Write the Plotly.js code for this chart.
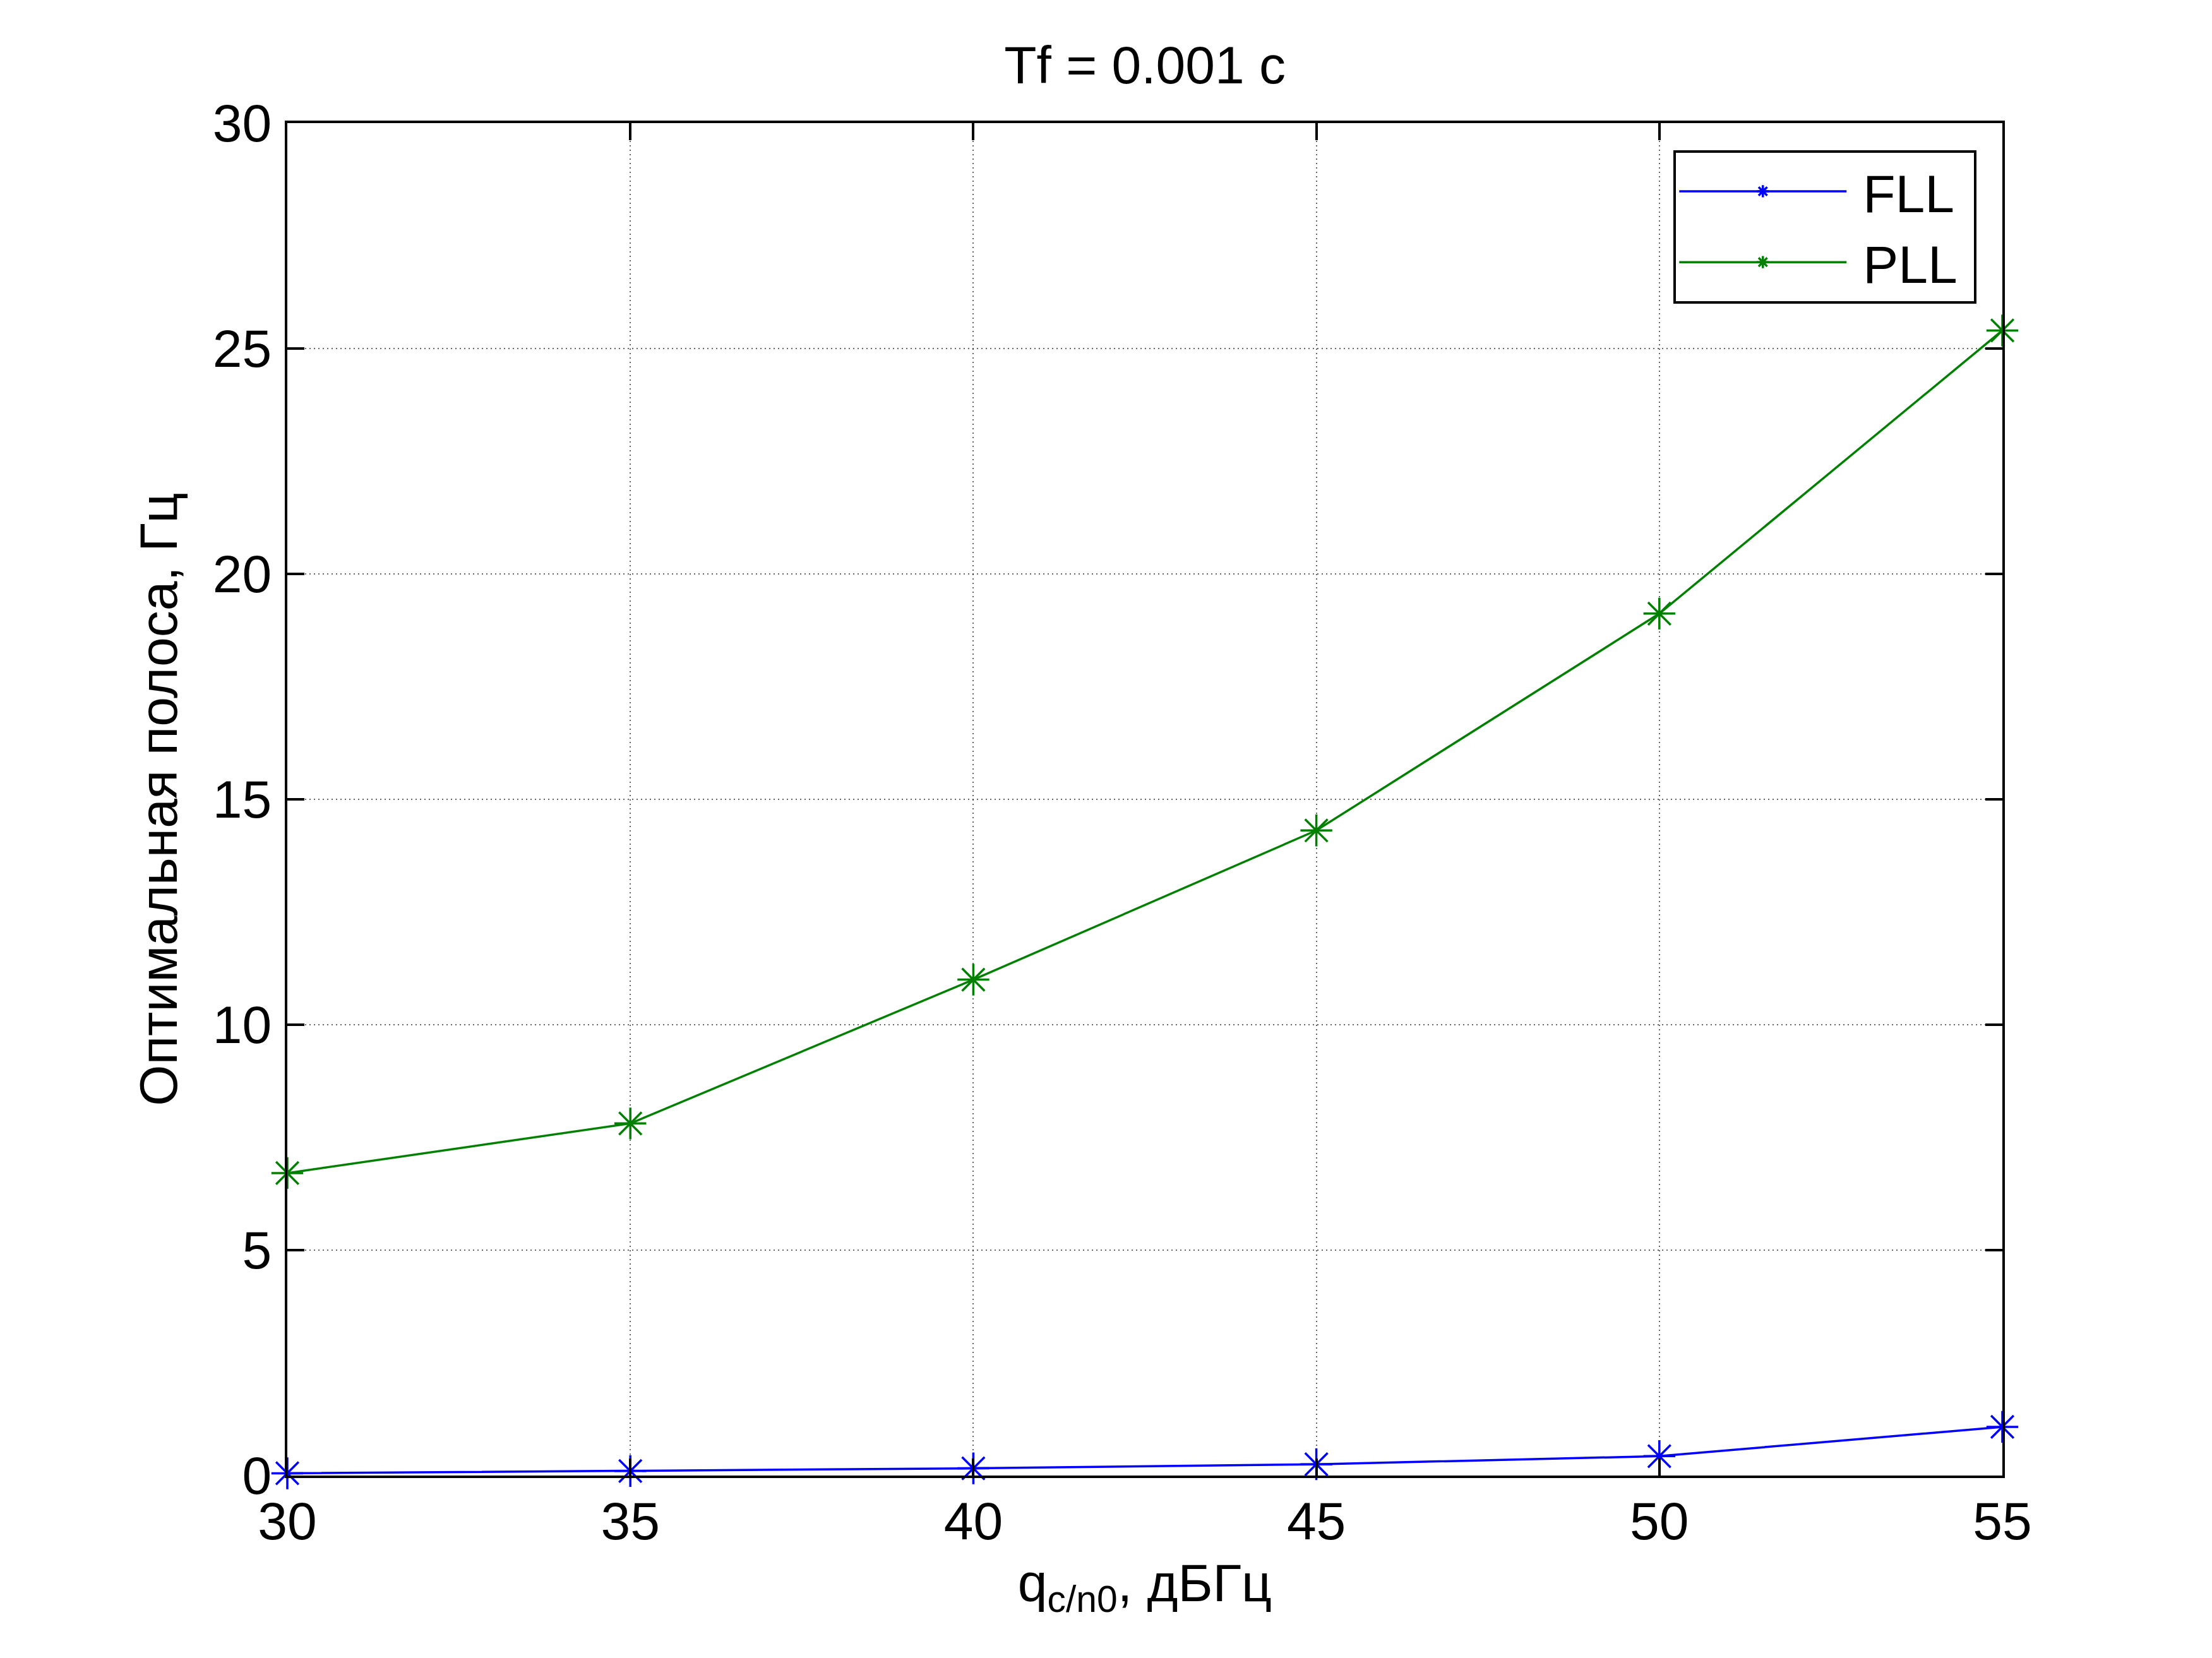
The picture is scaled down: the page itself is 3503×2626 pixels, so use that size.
<!DOCTYPE html>
<html>
<head>
<meta charset="utf-8">
<script src="https://cdn.plot.ly/plotly-3.0.1.min.js"></script>
<style>
  html, body { margin: 0; padding: 0; background: #fff; }
  #chart { width: 3503px; height: 2626px; }
</style>
</head>
<body>
<div id="chart"></div>
<script>
// q_c/n0, dB-Hz
var qcn0 = [30, 35, 40, 45, 50, 55];
// optimal loop bandwidth, Hz
var fllBand = [0.05, 0.10, 0.16, 0.25, 0.43, 1.08];
var pllBand = [6.71, 7.81, 11.0, 14.31, 19.12, 25.40];

var xTicks = [30, 35, 40, 45, 50, 55];
var yTicks = [0, 5, 10, 15, 20, 25, 30];

var FONT = 'Liberation Sans, Arial, Helvetica, sans-serif';

function makeTrace(name, y, color) {
    return {
        x: qcn0,
        y: y,
        // small spaces give the legend some air around the label
        name: '\u2005' + name + '\u2005',
        type: 'scatter',
        mode: 'lines+markers',
        cliponaxis: false,
        line: {color: color, width: 3.5},
        marker: {
            symbol: 'asterisk-open',
            size: 42,
            color: color,
            line: {color: color, width: 3.5}
        }
    };
}

var axisBase = {
    showline: true,
    linecolor: '#000',
    linewidth: 4,
    mirror: 'ticks',
    ticks: 'inside',
    ticklen: 27,
    tickwidth: 4,
    tickcolor: '#000',
    showgrid: true,
    gridcolor: 'rgba(0,0,0,0.6)',
    gridwidth: 2,
    griddash: '2px,5px',
    zeroline: false,
    tickfont: {family: FONT, size: 84, color: '#000'}
};

var layout = {
    width: 3503,
    height: 2626,
    paper_bgcolor: '#fff',
    plot_bgcolor: '#fff',
    margin: {l: 455, r: 332, t: 195, b: 289, pad: 0},
    showlegend: true,
    title: {
        text: 'Tf = 0.001 c',
        font: {family: FONT, size: 84, color: '#000'},
        x: 0.5176,
        xanchor: 'center',
        y: 0.961,
        yanchor: 'middle'
    },
    xaxis: Object.assign({}, axisBase, {
        range: [30, 55],
        tickvals: xTicks,
        ticktext: xTicks.map(String),
        ticklabelstandoff: -4,
        title: {
            text: 'q<sub>c/n0</sub>, дБГц',
            font: {family: FONT, size: 84, color: '#000'},
            standoff: 23
        }
    }),
    yaxis: Object.assign({}, axisBase, {
        range: [0, 30],
        tickvals: yTicks,
        ticktext: yTicks.map(String),
        ticklabelstandoff: 4,
        title: {
            text: 'Оптимальная полоса, Гц',
            font: {family: FONT, size: 84, color: '#000'},
            standoff: 29
        }
    }),
    legend: {
        x: 0.985,
        y: 0.980,
        xanchor: 'right',
        yanchor: 'top',
        bgcolor: '#fff',
        bordercolor: '#000',
        borderwidth: 4,
        itemwidth: 265,
        font: {family: FONT, size: 84, color: '#000'}
    }
};

var data = [
    makeTrace('FLL', fllBand, '#0000ff'),
    makeTrace('PLL', pllBand, '#008000')
];

Plotly.newPlot(document.getElementById('chart'), data, layout, {staticPlot: true});
</script>
</body>
</html>
